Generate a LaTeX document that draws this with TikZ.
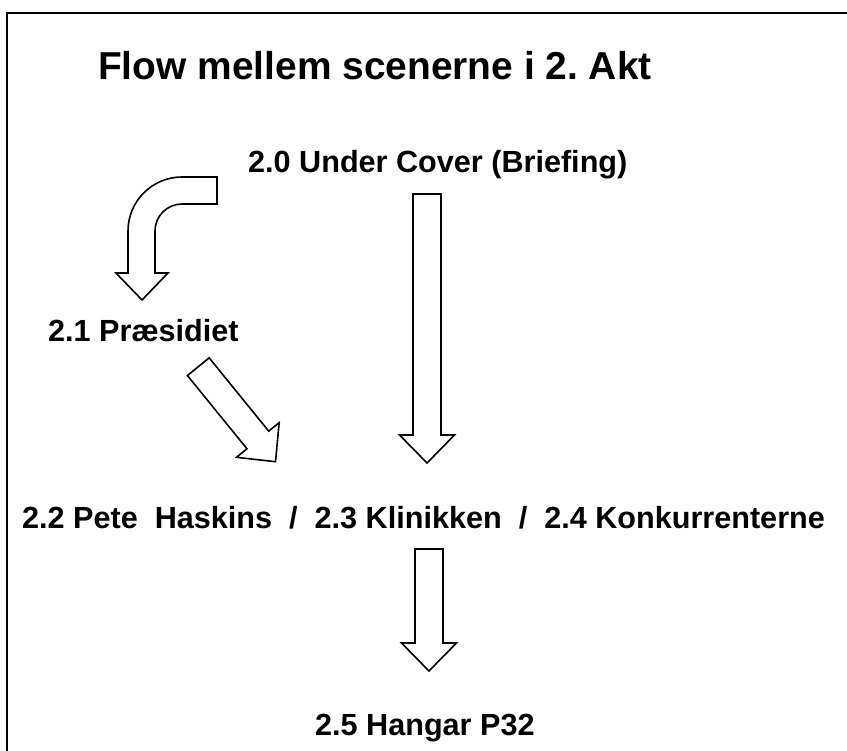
\documentclass[tikz,border=0pt]{standalone}
\usepackage{fontspec}
\setmainfont{Liberation Sans}
\usetikzlibrary{calc}
\frenchspacing

\tikzset{
  hollow/.style={draw=black, fill=white, line width=1.6pt, line join=miter},
  scene/.style={font=\fontsize{30.6}{36}\selectfont\bfseries, anchor=base west, inner sep=0pt},
  headline/.style={font=\fontsize{38.9}{46}\selectfont\bfseries, anchor=base west, inner sep=0pt},
}

% block arrow from #1 to #2 (shaft 28, head 55 wide, 28 long)
\newcommand{\hollowarrow}[2]{%
  \coordinate (hb) at ($(#2)!28pt!(#1)$);
  \draw[hollow] ($(#1)!14pt!90:(#2)$) -- ($(hb)!14pt!-90:(#1)$)
    -- ($(hb)!27.5pt!-90:(#1)$) -- (#2) -- ($(hb)!27.5pt!90:(#1)$)
    -- ($(hb)!14pt!90:(#1)$) -- ($(#1)!14pt!-90:(#2)$) -- cycle;
}

\begin{document}
\begin{tikzpicture}[x=1pt, y=-1pt]
\useasboundingbox (0,0) rectangle (847,751);
% frame
\draw[line width=1.5pt] (7,760) -- (7,13) -- (860,13);

% texts
\node[headline] (title) at (98,80) {Flow mellem scenerne i 2. Akt};
\node[scene] (briefing) at (248,173) {2.0 Under Cover (Briefing)};
\node[scene] (praesidiet) at (48,342) {2.1 Præsidiet};
\node[scene] (midt) at (22,529) {2.2 Pete~~Haskins~~/~~2.3 Klinikken~~/~~2.4 Konkurrenterne};
\node[scene] (hangar) at (315,735) {2.5 Hangar P32};

% arrow ends
\coordinate (a0) at (427,194);
\coordinate (a1) at (427,463);
\coordinate (b0) at (198.3,366.7);
\coordinate (b1) at (275.5,461.7);
\coordinate (c0) at (429,549);
\coordinate (c1) at (429,671);

% bent arrow to 2.1
\draw[hollow] (217,177) -- (182,177) .. controls (152.2,177) and (128,201.2) .. (128,231)
  -- (128,273) -- (116,273) -- (142,300) -- (168,273) -- (155,273) -- (155,231)
  .. controls (155,216.1) and (167.1,204) .. (182,204) -- (217,204) -- cycle;

\hollowarrow{a0}{a1}
\hollowarrow{b0}{b1}
\hollowarrow{c0}{c1}
\end{tikzpicture}
\end{document}
